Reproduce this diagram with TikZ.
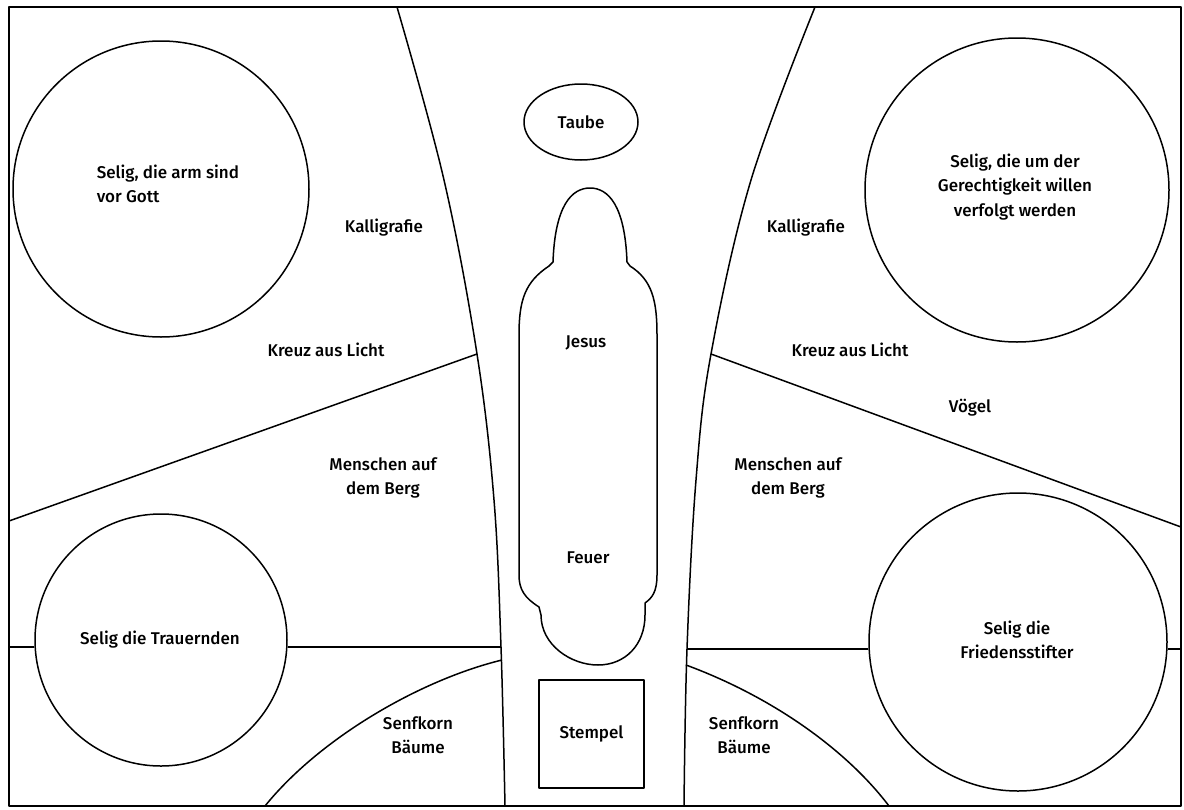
\documentclass[tikz,border=0pt]{standalone}
\usepackage{fontspec}
\setmainfont{Fira Sans Medium}
\usetikzlibrary{shapes.geometric}
\begin{document}
\begin{tikzpicture}[x=1pt,y=-1pt,
  every path/.style={line width=1.5pt, line join=round},
  lbl/.style={font=\fontsize{17}{24.5}\selectfont, align=center, inner sep=0pt},
  ring/.style={circle, draw, inner sep=0pt},
  oval/.style={ellipse, draw, inner sep=0pt},
  stamp/.style={rectangle, draw, inner sep=0pt}]
\useasboundingbox (0,0) rectangle (1184,809);
% frame
\draw (9,7) rectangle (1181,806);
% curve points
\coordinate (LT) at (397,7);
\coordinate (LD) at (477,354);
\coordinate (LH) at (501,647);
\coordinate (LA) at (502,660);
\coordinate (LB) at (505,806);
\coordinate (RT) at (815,7);
\coordinate (RD) at (711,354);
\coordinate (RH) at (687,649);
\coordinate (RA) at (686,665);
\coordinate (RB) at (684,806);
\coordinate (EL) at (9,521);
\coordinate (ER) at (1181,527);
\coordinate (HL) at (9,647);
\coordinate (HR) at (1181,649);
\coordinate (AL) at (265,806);
\coordinate (AR) at (889,806);
% main curves
\draw plot[smooth, tension=0.6] coordinates {(397,7) (444,180) (477,354) (494,500) (501,647) (505,806)};
\draw plot[smooth, tension=0.6] coordinates {(815,7) (751,180) (711,354) (696,480) (687,649) (684,806)};
% diagonals
\draw (EL) -- (LD);
\draw (RD) -- (ER);
% circles
\node[ring, minimum size=296pt] (c1) at (161,189) {};
\node[ring, minimum size=304pt] (c2) at (1017,190) {};
\node[ring, minimum size=252pt] (c3) at (161,640) {};
\node[ring, minimum size=298pt] (c4) at (1018,642) {};
% horizontals
\draw (HL) -- (c3.west |- HL);
\draw (c3.east |- LH) -- (LH);
\draw (RH) -- (c4.west |- RH);
\draw (c4.east |- HR) -- (HR);
% lower arcs
\draw (LA) .. controls (420,680) and (320,738) .. (AL);
\draw (RA) .. controls (770,696) and (845,748) .. (AR);
% centre figures
\node[oval, minimum width=114pt, minimum height=76pt] (taube) at (581,122) {};
\node[lbl] at (taube) {Taube};
\draw (553,262) .. controls (555,205) and (572,188) .. (590,188)
  .. controls (608,188) and (625,205) .. (627,262)
  -- (630,266) .. controls (652,280) and (657,300) .. (657,335)
  -- (657,575) .. controls (657,592) and (652,598) .. (645,603)
  -- (645,615) .. controls (645,645) and (625,665) .. (598,665)
  .. controls (571,665) and (541,645) .. (541,615)
  -- (539,607) .. controls (525,598) and (519,590) .. (519,575)
  -- (519,335) .. controls (519,300) and (525,282) .. (549,266) -- cycle;
\node[stamp, minimum width=105pt, minimum height=108pt] (stempel) at (591.5,734) {};
% labels
\node[lbl, align=left, anchor=west] (t1) at (96,184) {Selig, die arm sind\\vor Gott};
\node[lbl] (t2) at (1015,187) {Selig, die um der\\Gerechtigkeit willen\\verfolgt werden};
\node[lbl] (t3) at (160,640) {Selig die Trauernden};
\node[lbl] (t4) at (1017,640) {Selig die\\Friedensstifter};
\node[lbl] (k1) at (384,228) {Kalligrafie};
\node[lbl] (k2) at (806,228) {Kalligrafie};
\node[lbl] (l1) at (326,350) {Kreuz aus Licht};
\node[lbl] (l2) at (850,350) {Kreuz aus Licht};
\node[lbl] (v) at (970,408) {Vögel};
\node[lbl] (m1) at (383,478) {Menschen auf\\dem Berg};
\node[lbl] (m2) at (788,478) {Menschen auf\\dem Berg};
\node[lbl] (s1) at (418,735) {Senfkorn\\Bäume};
\node[lbl] (s2) at (744,735) {Senfkorn\\Bäume};
\node[lbl] (j) at (586,343) {Jesus};
\node[lbl] (f) at (588,558) {Feuer};
\node[lbl] at (stempel) {Stempel};
\end{tikzpicture}
\end{document}
